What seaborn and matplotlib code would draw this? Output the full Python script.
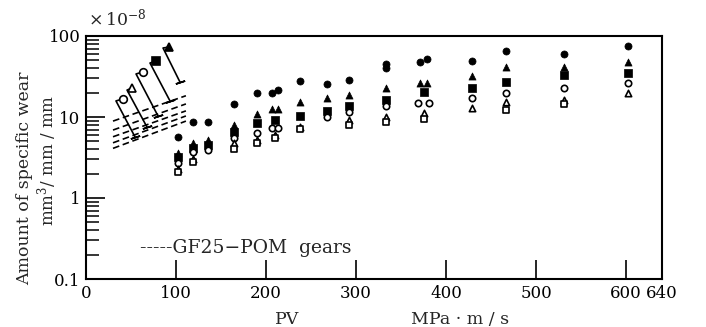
import matplotlib
matplotlib.use('Agg')
import matplotlib.pyplot as plt
import seaborn as sns
import pandas as pd
from matplotlib.ticker import LogLocator, NullFormatter

# specific wear (x 1e-8 mm3/mm/mm) vs PV (MPa m/s)
fc_pv = [102, 119, 136, 164, 190, 207, 213, 238, 268, 292, 333, 333, 371, 379, 429, 467, 531, 602]
fc_wear = [5.7, 8.7, 8.7, 14.5, 19.8, 19.8, 21.5, 27.8, 25.5, 28.6, 45.1, 40.3, 47.8, 52.0, 49.1, 65.3, 60.0, 75.3]

ft_pv = [102, 119, 136, 164, 190, 207, 213, 238, 268, 292, 333, 371, 379, 429, 467, 531, 602]
ft_wear = [3.6, 4.8, 5.2, 8.0, 10.9, 12.6, 12.6, 15.3, 17.2, 18.7, 22.6, 26.3, 26.3, 32.1, 41.4, 41.4, 47.8]

fs_pv = [102, 119, 136, 164, 190, 210, 238, 268, 292, 333, 375, 429, 467, 531, 602]
fs_wear = [3.2, 4.1, 4.5, 6.5, 8.4, 9.2, 10.3, 11.9, 13.7, 16.2, 20.4, 22.8, 27.0, 33.0, 34.9]

oc_pv = [102, 119, 136, 164, 190, 207, 213, 268, 292, 333, 369, 381, 429, 467, 531, 602]
oc_wear = [2.7, 3.7, 3.9, 5.5, 6.3, 7.3, 7.3, 10.0, 11.6, 13.7, 14.9, 14.9, 17.2, 19.8, 22.8, 26.3]

ot_pv = [102, 119, 164, 190, 210, 238, 292, 333, 375, 429, 467, 531, 602]
ot_wear = [2.3, 3.0, 4.8, 5.2, 6.0, 7.5, 9.2, 10.0, 11.2, 12.9, 15.3, 16.2, 19.8]

os_pv = [102, 119, 164, 190, 210, 238, 292, 333, 375, 467, 531]
os_wear = [2.1, 2.8, 4.0, 4.8, 5.5, 7.2, 8.0, 8.7, 9.4, 12.2, 14.5]

# GF25-POM gears (dashed), start / end of each line
gf_pv = [30, 111]
gf_lines = {
    'L1': [8.9, 18.3],
    'L2': [6.9, 14.5],
    'L3': [5.7, 11.9],
    'L4': [4.8, 10.3],
    'L5': [4.1, 8.9],
}

# leader flags labelling the dashed lines: bottom, top, marker
flag_pv = [[54.4, 33.3, 41.1], [67.8, 45.6, 51.1], [80.0, 55.6, 63.3],
           [93.3, 71.1, 77.8], [104.4, 85.6, 92.2]]
flag_wear = [[5.7, 15.8, 16.7], [7.5, 21.5, 22.8], [10.3, 34.0, 36.0],
             [15.8, 46.4, 49.1], [27.0, 71.1, 73.1]]
flag_marker = ['o', '^', 'o', 's', '^']
flag_filled = [False, False, False, True, True]

x_ticks = [0, 100, 200, 300, 400, 500, 600, 640]
y_ticks = [0.1, 1, 10, 100]
y_labels = ['0.1', '1', '10', '100']

sns.set_theme(style='ticks')
plt.rcParams['font.family'] = ['DejaVu Serif', 'DejaVu Sans']
plt.rcParams['mathtext.fontset'] = 'dejavuserif'

W, H = 706, 327
fig = plt.figure(figsize=(W / 100, H / 100), dpi=100)
ax = fig.add_axes([86 / W, 1 - 279 / H, 576 / W, 243 / H])

series = [
    (fc_pv, fc_wear, 'o', True),
    (ft_pv, ft_wear, '^', True),
    (fs_pv, fs_wear, 's', True),
    (oc_pv, oc_wear, 'o', False),
    (ot_pv, ot_wear, '^', False),
    (os_pv, os_wear, 's', False),
]
for pv, wear, mk, filled in series:
    df = pd.DataFrame({'pv': pv, 'wear': wear})
    if filled:
        sns.scatterplot(data=df, x='pv', y='wear', marker=mk, s=26, color='black',
                        edgecolor='black', linewidth=0.5, ax=ax, zorder=3)
    else:
        sns.scatterplot(data=df, x='pv', y='wear', marker=mk, s=21, color='white',
                        edgecolor='black', linewidth=1.2, ax=ax, zorder=3)

gf = pd.DataFrame([{'pv': p, 'wear': w, 'line': k}
                   for k, ws in gf_lines.items() for p, w in zip(gf_pv, ws)])
sns.lineplot(data=gf, x='pv', y='wear', units='line', estimator=None, color='black',
             linewidth=1.2, linestyle=(0, (4, 2.2)), ax=ax)

for pv, wear, mk, filled in zip(flag_pv, flag_wear, flag_marker, flag_filled):
    ax.plot(pv, wear, color='black', lw=1.2)
    ax.plot(pv[0], wear[0], ls='none', marker=(2, 2, -72), ms=7, mew=1.2, color='black')
    ax.plot(pv[2], wear[2], ls='none', marker=mk, ms=5.5,
            mfc='black' if filled else 'white', mec='black', mew=1.2)

ax.set_yscale('log')
ax.set_xlim(0, 640)
ax.set_ylim(0.1, 100)
ax.set_xticks(x_ticks)
ax.set_xticklabels([str(t) for t in x_ticks])
ax.set_yticks(y_ticks)
ax.set_yticklabels(y_labels)
ax.yaxis.set_minor_locator(LogLocator(base=10, subs=range(2, 10)))
ax.yaxis.set_minor_formatter(NullFormatter())
ax.tick_params(which='major', direction='in', length=14, width=1.2, color='black',
               labelsize=12, pad=4, labelcolor='black')
ax.tick_params(axis='y', which='minor', direction='in', length=9, width=1.1, color='black')
ax.set_xlabel('')
ax.set_ylabel('')
for sp in ax.spines.values():
    sp.set_visible(True)
    sp.set_color('black')
    sp.set_linewidth(1.5)

ax.text(60, 0.24, '-----GF25\u2212POM  gears', fontsize=13.5, va='center', ha='left')

fig.text(88 / W, 1 - 18 / H, r'$\times\,10^{-8}$', fontsize=12.5, va='center', ha='left')
fig.text(25 / W, 1 - 178 / H, 'Amount of specific wear', rotation=90, fontsize=12.5,
         va='center', ha='center')
fig.text(47 / W, 1 - 160 / H, r'mm$^3$/ mm / mm', rotation=90, fontsize=12,
         va='center', ha='center')
fig.text(287 / W, 1 - 319 / H, 'PV', fontsize=12.5, va='center', ha='center')
fig.text(460 / W, 1 - 319 / H, 'MPa \u00b7 m / s', fontsize=12.5, va='center', ha='center')

fig.savefig('out.png', dpi=100)
